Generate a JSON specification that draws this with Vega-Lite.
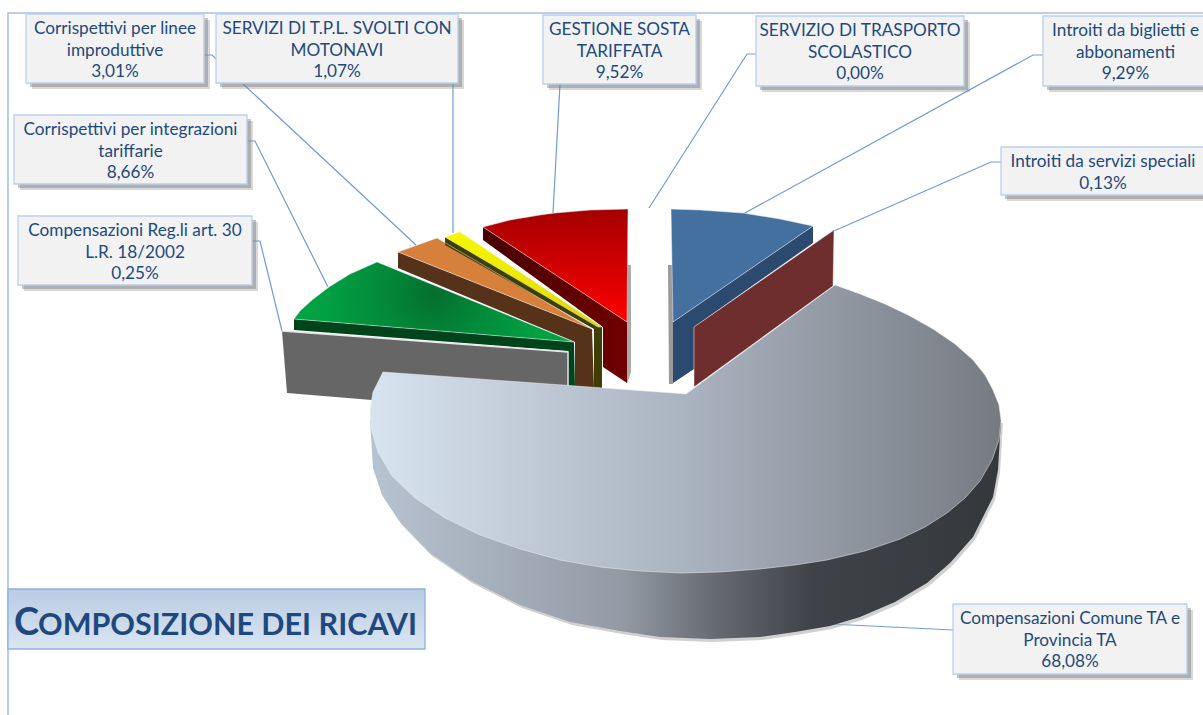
{"$schema":"https://vega.github.io/schema/vega-lite/v6.json","width":1203,"height":715,"autosize":{"type":"none"},"padding":0,"background":"white","config":{"view":{"stroke":null}},
"encoding":{"x":{"field":"x","type":"quantitative","scale":{"domain":[0,1203]},"axis":null},"y":{"field":"y","type":"quantitative","scale":{"domain":[715,0]},"axis":null}},
"datasets":{
"frame":[{"id":"f","i":1,"x":1203,"y":13},{"id":"f","i":2,"x":8,"y":13},{"id":"f","i":3,"x":8,"y":715}],
"leaders":[
{"id":"a","i":1,"x":204,"y":55},{"id":"a","i":2,"x":212,"y":55},{"id":"a","i":3,"x":416,"y":245},
{"id":"b","i":1,"x":453,"y":80},{"id":"b","i":2,"x":453,"y":233},
{"id":"c","i":1,"x":247,"y":141},{"id":"c","i":2,"x":255,"y":141},{"id":"c","i":3,"x":328,"y":287},
{"id":"d","i":1,"x":252,"y":241},{"id":"d","i":2,"x":260,"y":241},{"id":"d","i":3,"x":282,"y":331},
{"id":"e","i":1,"x":560,"y":84},{"id":"e","i":2,"x":553,"y":213},
{"id":"g","i":1,"x":756,"y":54},{"id":"g","i":2,"x":747,"y":54},{"id":"g","i":3,"x":649,"y":208},
{"id":"h","i":1,"x":1043,"y":55},{"id":"h","i":2,"x":1033,"y":55},{"id":"h","i":3,"x":743,"y":214},
{"id":"j","i":1,"x":1001,"y":162},{"id":"j","i":2,"x":991,"y":162},{"id":"j","i":3,"x":834,"y":231},
{"id":"k","i":1,"x":953,"y":630},{"id":"k","i":2,"x":830,"y":624}],
"greyedge":[{"i":1,"x":282,"y":331},{"i":2,"x":568,"y":352},{"i":3,"x":568,"y":390}],
"shapes":[
{"shape":"grey","i":1,"x":282,"y":331},{"shape":"grey","i":2,"x":568,"y":352},{"shape":"grey","i":3,"x":568,"y":392},{"shape":"grey","i":4,"x":372,"y":400},{"shape":"grey","i":5,"x":287,"y":393},{"shape":"grey","i":6,"x":282,"y":331},
{"shape":"green_side","i":1,"x":294,"y":319},{"shape":"green_side","i":2,"x":574,"y":342},{"shape":"green_side","i":3,"x":575,"y":388},{"shape":"green_side","i":4,"x":568,"y":388},{"shape":"green_side","i":5,"x":568,"y":351},{"shape":"green_side","i":6,"x":294,"y":330},{"shape":"green_side","i":7,"x":294,"y":319},
{"shape":"green_top","i":1,"x":294,"y":319},{"shape":"green_top","i":2,"x":300,"y":311},{"shape":"green_top","i":3,"x":312,"y":300},{"shape":"green_top","i":4,"x":329,"y":287},{"shape":"green_top","i":5,"x":350,"y":274},{"shape":"green_top","i":6,"x":377,"y":262},{"shape":"green_top","i":7,"x":574,"y":342},{"shape":"green_top","i":8,"x":294,"y":319},
{"shape":"brown","i":1,"x":398,"y":252},{"shape":"brown","i":2,"x":592,"y":329},{"shape":"brown","i":3,"x":594,"y":388},{"shape":"brown","i":4,"x":575,"y":388},{"shape":"brown","i":5,"x":575,"y":342},{"shape":"brown","i":6,"x":398,"y":268},{"shape":"brown","i":7,"x":398,"y":252},
{"shape":"orange","i":1,"x":398,"y":252},{"shape":"orange","i":2,"x":437,"y":238},{"shape":"orange","i":3,"x":592,"y":329},{"shape":"orange","i":4,"x":398,"y":252},
{"shape":"olive","i":1,"x":445,"y":237},{"shape":"olive","i":2,"x":602,"y":327},{"shape":"olive","i":3,"x":602,"y":388},{"shape":"olive","i":4,"x":594,"y":388},{"shape":"olive","i":5,"x":594,"y":329},{"shape":"olive","i":6,"x":445,"y":245},{"shape":"olive","i":7,"x":445,"y":237},
{"shape":"yellow","i":1,"x":445,"y":237},{"shape":"yellow","i":2,"x":460,"y":232},{"shape":"yellow","i":3,"x":602,"y":327},{"shape":"yellow","i":4,"x":598,"y":327},{"shape":"yellow","i":5,"x":445,"y":237},
{"shape":"red_shadow","i":1,"x":627,"y":265},{"shape":"red_shadow","i":2,"x":631,"y":265},{"shape":"red_shadow","i":3,"x":631,"y":372},{"shape":"red_shadow","i":4,"x":627,"y":384},{"shape":"red_shadow","i":5,"x":627,"y":265},
{"shape":"red_side","i":1,"x":483,"y":227},{"shape":"red_side","i":2,"x":627,"y":322},{"shape":"red_side","i":3,"x":627,"y":383},{"shape":"red_side","i":4,"x":603,"y":367},{"shape":"red_side","i":5,"x":603,"y":327},{"shape":"red_side","i":6,"x":483,"y":240},{"shape":"red_side","i":7,"x":483,"y":227},
{"shape":"red_top","i":1,"x":483,"y":227},{"shape":"red_top","i":2,"x":510,"y":220},{"shape":"red_top","i":3,"x":540,"y":215},{"shape":"red_top","i":4,"x":555,"y":213},{"shape":"red_top","i":5,"x":590,"y":210},{"shape":"red_top","i":6,"x":628,"y":209},{"shape":"red_top","i":7,"x":627,"y":322},{"shape":"red_top","i":8,"x":483,"y":227},
{"shape":"main_wall","i":1,"x":1001,"y":420},{"shape":"main_wall","i":2,"x":998,"y":470},{"shape":"main_wall","i":3,"x":993,"y":497},{"shape":"main_wall","i":4,"x":973,"y":537},{"shape":"main_wall","i":5,"x":950,"y":563},{"shape":"main_wall","i":6,"x":927,"y":583},{"shape":"main_wall","i":7,"x":895,"y":602},{"shape":"main_wall","i":8,"x":860,"y":617},{"shape":"main_wall","i":9,"x":830,"y":626},{"shape":"main_wall","i":10,"x":795,"y":632},{"shape":"main_wall","i":11,"x":760,"y":637},{"shape":"main_wall","i":12,"x":710,"y":639},{"shape":"main_wall","i":13,"x":660,"y":637},{"shape":"main_wall","i":14,"x":620,"y":631},{"shape":"main_wall","i":15,"x":570,"y":622},{"shape":"main_wall","i":16,"x":520,"y":605},{"shape":"main_wall","i":17,"x":470,"y":580},{"shape":"main_wall","i":18,"x":430,"y":553},{"shape":"main_wall","i":19,"x":400,"y":522},{"shape":"main_wall","i":20,"x":382,"y":495},{"shape":"main_wall","i":21,"x":373,"y":468},{"shape":"main_wall","i":22,"x":370,"y":420},{"shape":"main_wall","i":23,"x":685,"y":430},{"shape":"main_wall","i":24,"x":1001,"y":420},
{"shape":"main_top","i":1,"x":686,"y":394},{"shape":"main_top","i":2,"x":835,"y":285},{"shape":"main_top","i":3,"x":860,"y":294},{"shape":"main_top","i":4,"x":885,"y":304},{"shape":"main_top","i":5,"x":910,"y":316},{"shape":"main_top","i":6,"x":933,"y":329},{"shape":"main_top","i":7,"x":955,"y":344},{"shape":"main_top","i":8,"x":973,"y":360},{"shape":"main_top","i":9,"x":985,"y":375},{"shape":"main_top","i":10,"x":993,"y":390},{"shape":"main_top","i":11,"x":999,"y":405},{"shape":"main_top","i":12,"x":1001,"y":420},{"shape":"main_top","i":13,"x":999,"y":440},{"shape":"main_top","i":14,"x":992,"y":460},{"shape":"main_top","i":15,"x":980,"y":481},{"shape":"main_top","i":16,"x":965,"y":498},{"shape":"main_top","i":17,"x":947,"y":513},{"shape":"main_top","i":18,"x":925,"y":527},{"shape":"main_top","i":19,"x":900,"y":539},{"shape":"main_top","i":20,"x":865,"y":551},{"shape":"main_top","i":21,"x":827,"y":560},{"shape":"main_top","i":22,"x":795,"y":565},{"shape":"main_top","i":23,"x":760,"y":569},{"shape":"main_top","i":24,"x":720,"y":572},{"shape":"main_top","i":25,"x":680,"y":573},{"shape":"main_top","i":26,"x":640,"y":571},{"shape":"main_top","i":27,"x":600,"y":567},{"shape":"main_top","i":28,"x":560,"y":560},{"shape":"main_top","i":29,"x":520,"y":549},{"shape":"main_top","i":30,"x":480,"y":535},{"shape":"main_top","i":31,"x":445,"y":518},{"shape":"main_top","i":32,"x":415,"y":498},{"shape":"main_top","i":33,"x":392,"y":476},{"shape":"main_top","i":34,"x":378,"y":452},{"shape":"main_top","i":35,"x":371,"y":428},{"shape":"main_top","i":36,"x":370,"y":410},{"shape":"main_top","i":37,"x":373,"y":392},{"shape":"main_top","i":38,"x":383,"y":372},{"shape":"main_top","i":39,"x":686,"y":394},
{"shape":"blue_shadow","i":1,"x":668,"y":265},{"shape":"blue_shadow","i":2,"x":673,"y":265},{"shape":"blue_shadow","i":3,"x":673,"y":384},{"shape":"blue_shadow","i":4,"x":669,"y":384},{"shape":"blue_shadow","i":5,"x":668,"y":265},
{"shape":"blue_side","i":1,"x":673,"y":322},{"shape":"blue_side","i":2,"x":813,"y":226},{"shape":"blue_side","i":3,"x":813,"y":243},{"shape":"blue_side","i":4,"x":694,"y":327},{"shape":"blue_side","i":5,"x":694,"y":369},{"shape":"blue_side","i":6,"x":673,"y":383},{"shape":"blue_side","i":7,"x":673,"y":322},
{"shape":"blue_top","i":1,"x":671,"y":209},{"shape":"blue_top","i":2,"x":700,"y":210},{"shape":"blue_top","i":3,"x":743,"y":213},{"shape":"blue_top","i":4,"x":780,"y":219},{"shape":"blue_top","i":5,"x":813,"y":226},{"shape":"blue_top","i":6,"x":673,"y":322},{"shape":"blue_top","i":7,"x":671,"y":209},
{"shape":"maroon","i":1,"x":834,"y":230},{"shape":"maroon","i":2,"x":833,"y":286},{"shape":"maroon","i":3,"x":694,"y":387},{"shape":"maroon","i":4,"x":694,"y":327},{"shape":"maroon","i":5,"x":834,"y":230}
],
"labels":[
{"label":"Corrispettivi per linee\nimproduttive\n3,01%","share":3.01,"x":26,"x2":204,"y":14,"y2":83},
{"label":"SERVIZI DI T.P.L. SVOLTI CON\nMOTONAVI\n1,07%","share":1.07,"x":216,"x2":458,"y":14,"y2":83},
{"label":"Corrispettivi per integrazioni\ntariffarie\n8,66%","share":8.66,"x":14,"x2":247,"y":115,"y2":184},
{"label":"Compensazioni Reg.li art. 30\nL.R. 18/2002\n0,25%","share":0.25,"x":18,"x2":252,"y":216,"y2":285},
{"label":"GESTIONE SOSTA\nTARIFFATA\n9,52%","share":9.52,"x":543,"x2":696,"y":15,"y2":84},
{"label":"SERVIZIO DI TRASPORTO\nSCOLASTICO\n0,00%","share":0,"x":756,"x2":964,"y":16,"y2":86},
{"label":"Introiti da biglietti e\nabbonamenti\n9,29%","share":9.29,"x":1043,"x2":1208,"y":16,"y2":86},
{"label":"Introiti da servizi speciali\n0,13%","share":0.13,"x":1001,"x2":1205,"y":147,"y2":195},
{"label":"Compensazioni Comune TA e\nProvincia TA\n68,08%","share":68.08,"x":953,"x2":1187,"y":604,"y2":674}
],
"titlebox":[{"x":8,"x2":425,"y":589,"y2":649}],
"t1":[{"t":"C","x":14,"y":635}],
"t2":[{"t":"OMPOSIZIONE DEI RICAVI","x":38,"y":635}]
},
"layer":[
{"data":{"name":"frame"},"mark":{"type":"line","stroke":"#a3c0e8","strokeWidth":1.5},"encoding":{"order":{"field":"i"}}},
{"data":{"name":"leaders"},"mark":{"type":"line","stroke":"#6f9bd8","strokeWidth":1.2},"encoding":{"detail":{"field":"id"},"order":{"field":"i"}}},
{"data":{"name":"shapes"},"transform":[{"filter":"datum.shape=='main_wall'"}],"mark":{"type":"line","fill":"#b0b0b0","fillOpacity":0.6,"strokeWidth":0,"xOffset":2,"yOffset":3},"encoding":{"order":{"field":"i"}}},
{"data":{"name":"shapes"},"transform":[{"filter":"indexof(['grey','green_side','brown','orange','olive','red_shadow'],datum.shape)>=0"}],"mark":{"type":"line","filled":true,"strokeWidth":0},"encoding":{"order":{"field":"i"},"fill":{"field":"shape","type":"nominal","legend":null,"scale":{"domain":["grey","green_side","brown","orange","olive","red_shadow","blue_shadow","blue_side","blue_top","maroon"],"range":["#666666","#00441c","#56321a","#d6803c","#3f3f05","#aaaaaa","#9a9a9a","#2c4a70","#44709f","#6f2e2e"]}}}},
{"data":{"name":"greyedge"},"mark":{"type":"line","stroke":"#e6e6e6","strokeWidth":1.5},"encoding":{"order":{"field":"i"}}},
{"data":{"name":"shapes"},"transform":[{"filter":"datum.shape=='green_top'"}],"mark":{"type":"line","strokeWidth":0,"fill":{"gradient":"radial","x1":0.5,"y1":0.47,"r1":0,"x2":0.5,"y2":0.47,"r2":0.6,"stops":[{"offset":0,"color":"#046f2e"},{"offset":0.3,"color":"#03893a"},{"offset":0.65,"color":"#01a042"},{"offset":1,"color":"#00a845"}]}},"encoding":{"order":{"field":"i"}}},
{"data":{"name":"shapes"},"transform":[{"filter":"datum.shape=='yellow'"}],"mark":{"type":"line","strokeWidth":0,"fill":{"gradient":"linear","x1":0,"y1":0,"x2":1,"y2":1,"stops":[{"offset":0,"color":"#f8f800"},{"offset":1,"color":"#dcd800"}]}},"encoding":{"order":{"field":"i"}}},
{"data":{"name":"shapes"},"transform":[{"filter":"datum.shape=='red_side'"}],"mark":{"type":"line","strokeWidth":0,"fill":{"gradient":"linear","x1":0,"y1":0,"x2":1,"y2":0,"stops":[{"offset":0,"color":"#480000"},{"offset":1,"color":"#700000"}]}},"encoding":{"order":{"field":"i"}}},
{"data":{"name":"shapes"},"transform":[{"filter":"datum.shape=='red_top'"}],"mark":{"type":"line","strokeWidth":0,"fill":{"gradient":"linear","x1":0,"y1":0,"x2":0,"y2":1,"stops":[{"offset":0,"color":"#a40000"},{"offset":1,"color":"#ff0000"}]}},"encoding":{"order":{"field":"i"}}},
{"data":{"name":"shapes"},"transform":[{"filter":"datum.shape=='main_wall'"}],"mark":{"type":"line","strokeWidth":0,"fill":{"gradient":"linear","x1":0,"y1":0,"x2":1,"y2":0,"stops":[{"offset":0,"color":"#b8c3d1"},{"offset":0.4,"color":"#929aa5"},{"offset":0.55,"color":"#666a70"},{"offset":0.7,"color":"#3f4247"},{"offset":1,"color":"#35383b"}]}},"encoding":{"order":{"field":"i"}}},
{"data":{"name":"shapes"},"transform":[{"filter":"datum.shape=='main_top'"}],"mark":{"type":"line","strokeWidth":0,"fill":{"gradient":"linear","x1":0,"y1":0,"x2":1,"y2":0,"stops":[{"offset":0,"color":"#d8e3f0"},{"offset":0.5,"color":"#aab3c0"},{"offset":1,"color":"#767b82"}]}},"encoding":{"order":{"field":"i"}}},
{"data":{"name":"shapes"},"transform":[{"filter":"indexof(['blue_shadow','blue_side','blue_top','maroon'],datum.shape)>=0"}],"mark":{"type":"line","filled":true,"strokeWidth":0},"encoding":{"order":{"field":"i"},"fill":{"field":"shape","type":"nominal","legend":null}}},
{"data":{"name":"shapes"},"transform":[{"filter":"indexof(['main_top','blue_top','red_top','maroon','orange','yellow','green_top'],datum.shape)>=0"}],"mark":{"type":"line","stroke":"#eef0f4","strokeOpacity":0.5,"strokeWidth":1},"encoding":{"detail":{"field":"shape"},"order":{"field":"i"}}},
{"data":{"name":"labels"},"mark":{"type":"rect","fill":"#7f7f7f","fillOpacity":0.3,"xOffset":6,"yOffset":6,"x2Offset":6,"y2Offset":6},"encoding":{"x2":{"field":"x2"},"y2":{"field":"y2"}}},
{"data":{"name":"labels"},"mark":{"type":"rect","fill":"#7f7f7f","fillOpacity":0.45,"xOffset":4,"yOffset":4,"x2Offset":4,"y2Offset":4},"encoding":{"x2":{"field":"x2"},"y2":{"field":"y2"}}},
{"data":{"name":"labels"},"mark":{"type":"rect","fill":"#f2f2f2","stroke":"#b9cff0","strokeWidth":1.3},"encoding":{"x2":{"field":"x2"},"y2":{"field":"y2"}}},
{"data":{"name":"labels"},"transform":[{"calculate":"(datum.x+datum.x2)/2","as":"cx"}],"mark":{"type":"text","font":"Lato","fontSize":17.2,"color":"#1f497d","align":"center","baseline":"middle","lineBreak":"\n","lineHeight":21.5,"dy":15},"encoding":{"x":{"field":"cx","type":"quantitative"},"text":{"field":"label"}}},
{"data":{"name":"titlebox"},"mark":{"type":"rect","stroke":"#8db3e2","strokeWidth":1.3,"fill":{"gradient":"linear","x1":0,"y1":0,"x2":0,"y2":1,"stops":[{"offset":0,"color":"#b8cce4"},{"offset":1,"color":"#dbe5f1"}]}},"encoding":{"x2":{"field":"x2"},"y2":{"field":"y2"}}},
{"data":{"name":"t1"},"mark":{"type":"text","font":"Lato","fontWeight":"bold","fontSize":38,"color":"#1f497d","align":"left","baseline":"alphabetic"},"encoding":{"text":{"field":"t"}}},
{"data":{"name":"t2"},"mark":{"type":"text","font":"Lato","fontWeight":"bold","fontSize":30.5,"color":"#1f497d","align":"left","baseline":"alphabetic"},"encoding":{"text":{"field":"t"}}}
]}
